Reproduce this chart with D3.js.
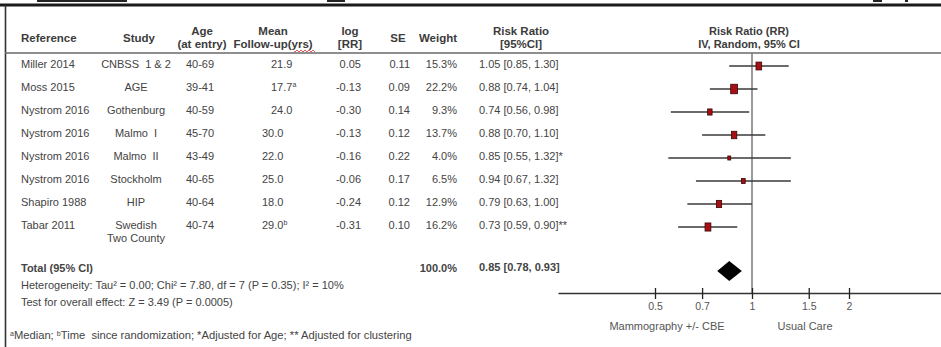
<!DOCTYPE html>
<html>
<head>
<meta charset="utf-8">
<script src="https://cdn.jsdelivr.net/npm/d3@7"></script>
<style>
  html, body { margin: 0; padding: 0; background: #fff; }
  svg { display: block; }
  text { font-family: "Liberation Sans", Arial, sans-serif; fill: #444; }
</style>
</head>
<body>
<svg id="chart" width="941" height="347"></svg>
<script>
// ---------------- data ----------------
const references = ["Miller 2014", "Moss 2015", "Nystrom 2016", "Nystrom 2016", "Nystrom 2016", "Nystrom 2016", "Shapiro 1988", "Tabar 2011"];
const studies = ["CNBSS  1 & 2", "AGE", "Gothenburg", "Malmo  I", "Malmo  II", "Stockholm", "HIP", "Swedish|Two County"];
const ages = ["40-69", "39-41", "40-59", "45-70", "43-49", "40-65", "40-64", "40-74"];
const followUps = ["21.9", "17.7", "24.0", "30.0", "22.0", "25.0", "18.0", "29.0"];
const followUpNotes = ["", "a", "", "", "", "", "", "b"];
const logRR = [0.05, -0.13, -0.30, -0.13, -0.16, -0.06, -0.24, -0.31];
const se = [0.11, 0.09, 0.14, 0.12, 0.22, 0.17, 0.12, 0.10];
const weights = [15.3, 22.2, 9.3, 13.7, 4.0, 6.5, 12.9, 16.2];
const rr = [1.05, 0.88, 0.74, 0.88, 0.85, 0.94, 0.79, 0.73];
const rrLower = [0.85, 0.74, 0.56, 0.70, 0.55, 0.67, 0.63, 0.59];
const rrUpper = [1.30, 1.04, 0.98, 1.10, 1.32, 1.32, 1.00, 0.90];
const ciNotes = ["", "", "", "", "*", "", "", "**"];
const totalRR = 0.85, totalLower = 0.78, totalUpper = 0.93, totalWeight = 100.0;
const tickValues = [0.5, 0.7, 1, 1.5, 2];
const favourLabels = ["Mammography +/- CBE", "Usual Care"];
const heterogeneityText = "Heterogeneity: Tau\u00b2 = 0.00; Chi\u00b2 = 7.80, df = 7 (P = 0.35); I\u00b2 = 10%";
const overallText = "Test for overall effect: Z = 3.49 (P = 0.0005)";

// ---------------- setup ----------------
const svg = d3.select("#chart");
const FS = 11;
const fmt2 = v => d3.format(".2f")(v).replace("\u2212", "-");
const fmtW = d3.format(".1f");

const x = d3.scaleLog().domain([0.25, 4]).range([558, 946]);
const y = d3.scaleLinear().domain([0, 7]).range([64, 225]);
const sq = d3.scaleSqrt().domain([0, 22.2]).range([0, 9.5]);

// frame
svg.append("line").attr("x1", 0).attr("x2", 941).attr("y1", 5).attr("y2", 5)
  .attr("stroke", "#1a1a1a").attr("stroke-width", 3);
svg.append("line").attr("x1", 5.5).attr("x2", 5.5).attr("y1", 5).attr("y2", 347)
  .attr("stroke", "#333").attr("stroke-width", 1.6);
// cropped fragments of text above the frame
[[37, 90], [327, 18], [873, 9], [905, 3]].forEach(([a, w]) =>
  svg.append("rect").attr("x", a).attr("y", 0).attr("width", w).attr("height", 2).attr("fill", "#222"));

// header underline
svg.append("line").attr("x1", 5).attr("x2", 941).attr("y1", 53).attr("y2", 53)
  .attr("stroke", "#6a6a6a").attr("stroke-width", 1.6);

// ---------------- headers ----------------
const hdr = svg.append("g").attr("font-weight", "bold").attr("font-size", 11.5);
function head(lines, cx, anchor) {
  const ys = lines.length === 1 ? [42] : [35, 48];
  lines.forEach((s, k) => hdr.append("text").attr("x", cx).attr("y", ys[k])
    .attr("text-anchor", anchor || "middle").style("fill", "#3c3c3c").text(s));
}
head(["Reference"], 21, "start");
head(["Study"], 139);
head(["Age", "(at entry)"], 202);
head(["Mean", "Follow-up(yrs)"], 273);
head(["log", "[RR]"], 350);
head(["SE"], 398);
head(["Weight"], 438);
head(["Risk Ratio", "[95%CI]"], 521);
hdr.append("text").attr("x", 749).attr("y", 35).attr("text-anchor", "middle")
  .attr("font-size", 11).style("fill", "#3c3c3c").text("Risk Ratio (RR)");
hdr.append("text").attr("x", 749).attr("y", 48).attr("text-anchor", "middle")
  .attr("font-size", 11).style("fill", "#3c3c3c").text("IV, Random, 95% CI");
// spell-check squiggle under "yrs"
{
  let d = "M294,51.5";
  for (let px = 294; px < 316; px += 2) d += `L${px + 1},${(px / 2) % 2 === 0 ? 50 : 52}`;
  svg.append("path").attr("d", d).attr("fill", "none").attr("stroke", "#d03030").attr("stroke-width", 0.8);
}

// ---------------- table rows ----------------
const rows = svg.append("g").attr("font-size", FS);
references.forEach((ref, i) => {
  const by = y(i) + 4;
  rows.append("text").attr("x", 21).attr("y", by).text(ref);
  const st = studies[i].split("|");
  st.forEach((s, k) => rows.append("text").attr("x", 136).attr("y", by + k * 13)
    .attr("text-anchor", "middle").style("white-space", "pre").attr("xml:space", "preserve").text(s));
  rows.append("text").attr("x", 200).attr("y", by).attr("text-anchor", "middle").text(ages[i]);
  const fx = i < 3 ? 271 : 262;
  const ft = rows.append("text").attr("x", fx).attr("y", by);
  ft.append("tspan").text(followUps[i]);
  if (followUpNotes[i]) ft.append("tspan").attr("font-size", 7).attr("dy", -4).text(followUpNotes[i]);
  rows.append("text").attr("x", 361).attr("y", by).attr("text-anchor", "end").text(fmt2(logRR[i]));
  rows.append("text").attr("x", 410).attr("y", by).attr("text-anchor", "end").text(fmt2(se[i]));
  rows.append("text").attr("x", 457).attr("y", by).attr("text-anchor", "end").text(fmtW(weights[i]) + "%");
  rows.append("text").attr("x", 479).attr("y", by)
    .text(`${fmt2(rr[i])} [${fmt2(rrLower[i])}, ${fmt2(rrUpper[i])}]${ciNotes[i]}`);
});

// total row
const tot = svg.append("g").attr("font-size", FS).attr("font-weight", "bold");
tot.append("text").attr("x", 21).attr("y", 272).text("Total (95% CI)");
tot.append("text").attr("x", 457).attr("y", 272).attr("text-anchor", "end").text(fmtW(totalWeight) + "%");
tot.append("text").attr("x", 479).attr("y", 271)
  .text(`${fmt2(totalRR)} [${fmt2(totalLower)}, ${fmt2(totalUpper)}]`);

rows.append("text").attr("x", 21).attr("y", 289).text(heterogeneityText);
rows.append("text").attr("x", 21).attr("y", 306).text(overallText);

const fn = rows.append("text").attr("x", 10).attr("y", 339).attr("xml:space", "preserve").attr("font-size", 11.2);
fn.append("tspan").attr("font-size", 7).attr("dy", -3).text("a");
fn.append("tspan").attr("dy", 3).text("Median; ");
fn.append("tspan").attr("font-size", 7).attr("dy", -3).text("b");
fn.append("tspan").attr("dy", 3).text("Time  since randomization; *Adjusted for Age; ** Adjusted for clustering");

// ---------------- forest plot ----------------
svg.append("line").attr("x1", x(1)).attr("x2", x(1)).attr("y1", 53).attr("y2", 293)
  .attr("stroke", "#7a7a7a").attr("stroke-width", 1.5);

const fp = svg.append("g");
references.forEach((_, i) => {
  const cy = y(i) + 2;
  fp.append("line").attr("x1", x(rrLower[i])).attr("x2", x(rrUpper[i]))
    .attr("y1", cy).attr("y2", cy).attr("stroke", "#3a3a3a").attr("stroke-width", 1.3);
  const h = sq(weights[i]), w = h * 0.72;
  fp.append("rect").attr("x", x(rr[i]) - w / 2).attr("y", cy - h / 2)
    .attr("width", w).attr("height", h)
    .attr("fill", "#a80f14").attr("stroke", "#3a0505").attr("stroke-width", 0.8);
});

// diamond
const dy0 = 271, dh = 10;
fp.append("path")
  .attr("d", `M${x(totalLower)},${dy0}L${x(totalRR)},${dy0 - dh}L${x(totalUpper)},${dy0}L${x(totalRR)},${dy0 + dh}Z`)
  .attr("fill", "#000");

// axis
const axis = d3.axisBottom(x).tickValues(tickValues).tickFormat(d3.format("")).tickSize(6).tickSizeOuter(0).tickPadding(4);
const ag = svg.append("g").attr("transform", "translate(0,293)").call(axis);
ag.select(".domain").attr("stroke", "#333").attr("stroke-width", 1.4);
ag.selectAll(".tick line").attr("y1", -5).attr("y2", 6).attr("stroke", "#222").attr("stroke-width", 1.3);
ag.selectAll(".tick text").attr("font-size", 10.5).attr("font-family", "Liberation Sans, Arial, sans-serif").style("fill", "#555");

// favour labels
svg.append("text").attr("x", 667).attr("y", 330).attr("text-anchor", "middle").attr("font-size", FS)
  .style("fill", "#555").text(favourLabels[0]);
svg.append("text").attr("x", 805).attr("y", 330).attr("text-anchor", "middle").attr("font-size", FS)
  .style("fill", "#555").text(favourLabels[1]);
</script>
</body>
</html>
